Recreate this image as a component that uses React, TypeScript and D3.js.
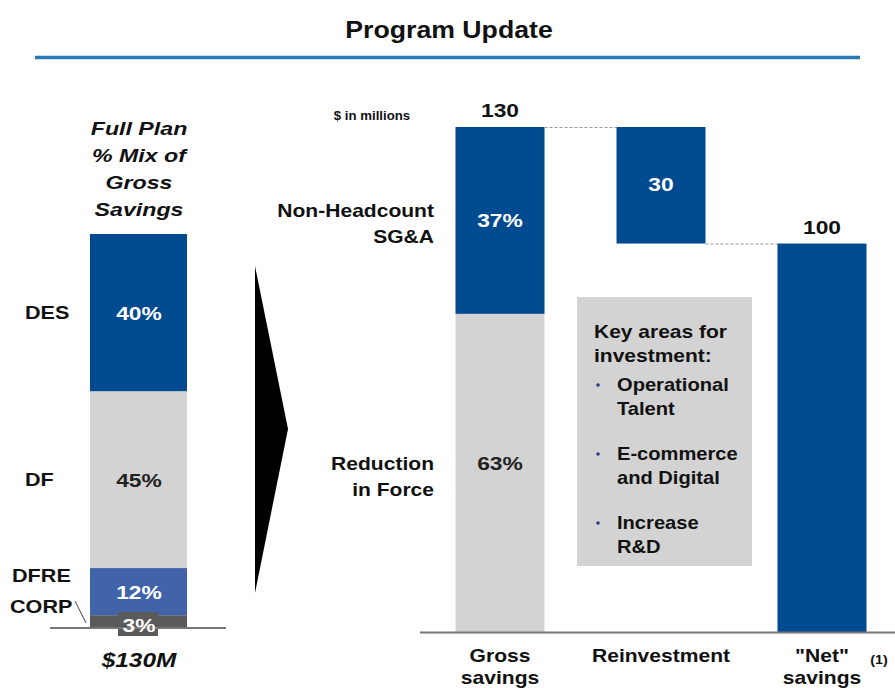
import React from "react";
import * as d3 from "d3";

const mixLabels = ["CORP", "DFRE", "DF", "DES"];
const mixValues = [3, 12, 45, 40];
const mixColors = ["#5a5a5a", "#4063a9", "#d3d3d3", "#004a8f"];

const categories = ["Gross\nsavings", "Reinvestment", "\"Net\"\nsavings"];
const grossTotal = 130;
const reinvestment = 30;
const netSavings = 100;
const grossMixLabels = ["Reduction\nin Force", "Non-Headcount\nSG&A"];
const grossMixPct = [63, 37];
const grossMixColors = ["#d3d3d3", "#004a8f"];

const keyAreas = ["Operational\nTalent", "E-commerce\nand Digital", "Increase\nR&D"];

const FONT = "'Liberation Sans', Arial, sans-serif";
const SX = 1.18;

type TP = {
  x: number; y: number; size: number; anchor?: "start" | "middle" | "end";
  fill?: string; italic?: boolean; sx?: number; children: React.ReactNode;
};
function T({ x, y, size, anchor = "start", fill = "#111", italic = false, sx = SX, children }: TP) {
  return (
    <text
      transform={`translate(${x},${y}) scale(${sx},1)`}
      textAnchor={anchor}
      fontSize={size}
      fontFamily={FONT}
      fontWeight={700}
      fontStyle={italic ? "italic" : "normal"}
      fill={fill}
    >
      {children}
    </text>
  );
}

export default function App() {
  const W = 895, H = 688;
  // left stacked bar
  const yL = d3.scaleLinear().domain([0, 100]).range([627, 234]);
  const xL0 = 90, xL1 = 187;
  const stacked: { y0: number; y1: number }[] = [];
  let acc = 0;
  mixValues.forEach((v) => { stacked.push({ y0: acc, y1: acc + v }); acc += v; });

  // right waterfall
  const yR = d3.scaleLinear().domain([0, grossTotal]).range([632, 127]);
  const xR = d3.scalePoint<string>().domain(categories).range([500, 822]);
  const bw = 89;

  const grossSegs: { y0: number; y1: number }[] = [];
  let a2 = 0;
  grossMixPct.forEach((p) => { const v = grossTotal * p / 100; grossSegs.push({ y0: a2, y1: a2 + v }); a2 += v; });

  const cx0 = xR(categories[0])!, cx1 = xR(categories[1])!, cx2 = xR(categories[2])!;
  const labelX = [10, 12, 25, 25];

  return (
    <svg width={W} height={H} style={{ position: "absolute", left: 0, top: 0, background: "#fff" }}>
      <T x={449} y={38} size={23} anchor="middle" sx={1.16}>Program Update</T>
      <line x1={35} x2={860} y1={57.5} y2={57.5} stroke="#2a79b3" strokeWidth={3.5} />

      {/* Left header */}
      {["Full Plan", "% Mix of", "Gross", "Savings"].map((s, i) => (
        <T key={s} x={139} y={135 + i * 27} size={19} anchor="middle" italic sx={1.22}>{s}</T>
      ))}

      {/* Left stacked bar */}
      {stacked.map((s, i) => (
        <rect key={i} x={xL0} width={xL1 - xL0} y={yL(s.y1)} height={yL(s.y0) - yL(s.y1)} fill={mixColors[i]} />
      ))}
      <rect x={118} y={612} width={40} height={24} fill="#5a5a5a" />
      <line x1={50} x2={226} y1={628} y2={628} stroke="#777" strokeWidth={2} />
      {stacked.map((s, i) => {
        const mid = (yL(s.y0) + yL(s.y1)) / 2;
        const ly = i === 0 ? 632 : mid + 7;
        return (
          <T key={"v" + i} x={139} y={ly} size={19} anchor="middle" fill={i === 2 ? "#222" : "#fff"} sx={1.2}>{mixValues[i]}%</T>
        );
      })}
      {mixLabels.map((l, i) => {
        const s = stacked[i];
        const mid = (yL(s.y0) + yL(s.y1)) / 2;
        const ly = i === 0 ? 613 : i === 1 ? 582 : mid + 6;
        return <T key={l} x={labelX[i]} y={ly} size={18} sx={1.2}>{l}</T>;
      })}
      <line x1={75} y1={601} x2={86} y2={623} stroke="#444" strokeWidth={1} />
      <T x={139} y={667} size={20} anchor="middle" italic sx={1.22}>$130M</T>

      {/* Arrow */}
      <path d="M255,266 L288,429 L255,593 Z" fill="#000" />

      {/* Right waterfall */}
      <T x={372} y={120} size={12} anchor="middle" sx={1.1}>$ in millions</T>
      {grossSegs.map((s, i) => (
        <rect key={"g" + i} x={cx0 - bw / 2} width={bw} y={yR(s.y1)} height={yR(s.y0) - yR(s.y1)} fill={grossMixColors[i]} />
      ))}
      {grossSegs.map((s, i) => (
        <T key={"gp" + i} x={cx0} y={(yR(s.y0) + yR(s.y1)) / 2 + (i === 0 ? -3 : 7)} size={19} anchor="middle" fill={i === 0 ? "#222" : "#fff"} sx={1.2}>{grossMixPct[i]}%</T>
      ))}
      {grossMixLabels.map((l, i) => {
        const s = grossSegs[i];
        const mid = (yR(s.y0) + yR(s.y1)) / 2;
        const base = mid - 3;
        return l.split("\n").map((ln, j) => (
          <T key={l + j} x={434} y={base + j * 26} size={18} anchor="end" sx={1.17}>{ln}</T>
        ));
      })}
      <rect x={cx1 - bw / 2} width={bw} y={yR(grossTotal)} height={yR(grossTotal - reinvestment) - yR(grossTotal)} fill="#004a8f" />
      <T x={cx1} y={(yR(grossTotal) + yR(grossTotal - reinvestment)) / 2 + 6} size={19} anchor="middle" fill="#fff" sx={1.2}>{reinvestment}</T>
      <rect x={cx2 - bw / 2} width={bw} y={yR(netSavings)} height={yR(0) - yR(netSavings)} fill="#004a8f" />
      <line x1={cx0 + bw / 2} x2={cx1 - bw / 2} y1={yR(grossTotal) + 0.5} y2={yR(grossTotal) + 0.5} stroke="#999" strokeDasharray="3,2" />
      <line x1={cx1 + bw / 2} x2={cx2 - bw / 2} y1={yR(netSavings) + 0.5} y2={yR(netSavings) + 0.5} stroke="#999" strokeDasharray="3,2" />
      <T x={cx0} y={yR(grossTotal) - 10} size={19} anchor="middle" sx={1.2}>{grossTotal}</T>
      <T x={cx2} y={yR(netSavings) - 10} size={19} anchor="middle" sx={1.2}>{netSavings}</T>
      <line x1={420} x2={895} y1={yR(0) + 0.5} y2={yR(0) + 0.5} stroke="#777" strokeWidth={2} />
      {categories.map((c) => c.split("\n").map((ln, j) => (
        <T key={c + j} x={xR(c)!} y={662 + j * 22} size={18} anchor="middle" sx={1.17}>{ln}</T>
      )))}
      <T x={879} y={664} size={13} anchor="middle" sx={1.1}>(1)</T>

      {/* Key box */}
      <rect x={577} y={297} width={175} height={269} fill="#d3d3d3" />
      <T x={594} y={338} size={17.5} sx={1.2}>Key areas for</T>
      <T x={594} y={362} size={17.5} sx={1.2}>investment:</T>
      {keyAreas.map((k, i) => {
        const y0 = 391 + i * 69;
        return (
          <g key={k}>
            <circle cx={598} cy={y0 - 6} r={1.8} fill="#1f3f8f" />
            {k.split("\n").map((ln, j) => (
              <T key={ln} x={617} y={y0 + j * 24} size={17.5} sx={1.15}>{ln}</T>
            ))}
          </g>
        );
      })}
    </svg>
  );
}
